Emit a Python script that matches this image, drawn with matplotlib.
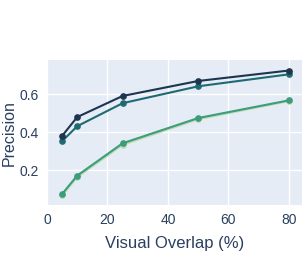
import matplotlib.pyplot as plt

plt.rcParams['font.family'] = ['Liberation Sans', 'DejaVu Sans']

overlap = [5, 10, 25, 50, 80]
prec_a = [0.381, 0.480, 0.591, 0.670, 0.725]
prec_b = [0.353, 0.432, 0.553, 0.642, 0.705]
prec_c = [0.075, 0.172, 0.342, 0.475, 0.568]
prec_d = [0.068, 0.164, 0.334, 0.469, 0.564]

series = [prec_d, prec_c, prec_b, prec_a]
colors = ['#b9dcae', '#3d9c7c', '#1f6a72', '#1e3550']

fig = plt.figure(figsize=(3.05, 2.67), dpi=100)
ax = fig.add_axes([0.154, 0.232, 0.836, 0.543])
ax.set_facecolor('#e5ecf6')

for ys, c in zip(series, colors):
    ax.plot(overlap, ys, '-o', color=c, lw=1.5, ms=3.8, zorder=3)

ax.set_xlim(0, 84.3)
ax.set_ylim(0.017, 0.78)
ax.set_xticks([0, 20, 40, 60, 80])
ax.set_yticks([0.2, 0.4, 0.6])
ax.set_yticklabels(['0.2', '0.4', '0.6'])
ax.grid(True, color='white', lw=1.0, zorder=0)
ax.set_axisbelow(True)
for s in ax.spines.values():
    s.set_visible(False)
ax.tick_params(length=0, colors='#2a3f5f', labelsize=10, pad=6)
ax.set_xlabel('Visual Overlap (%)', color='#2a3f5f', fontsize=12, labelpad=6)
ax.set_ylabel('Precision', color='#2a3f5f', fontsize=11.5, labelpad=2)

fig.savefig('out.png', dpi=100)
